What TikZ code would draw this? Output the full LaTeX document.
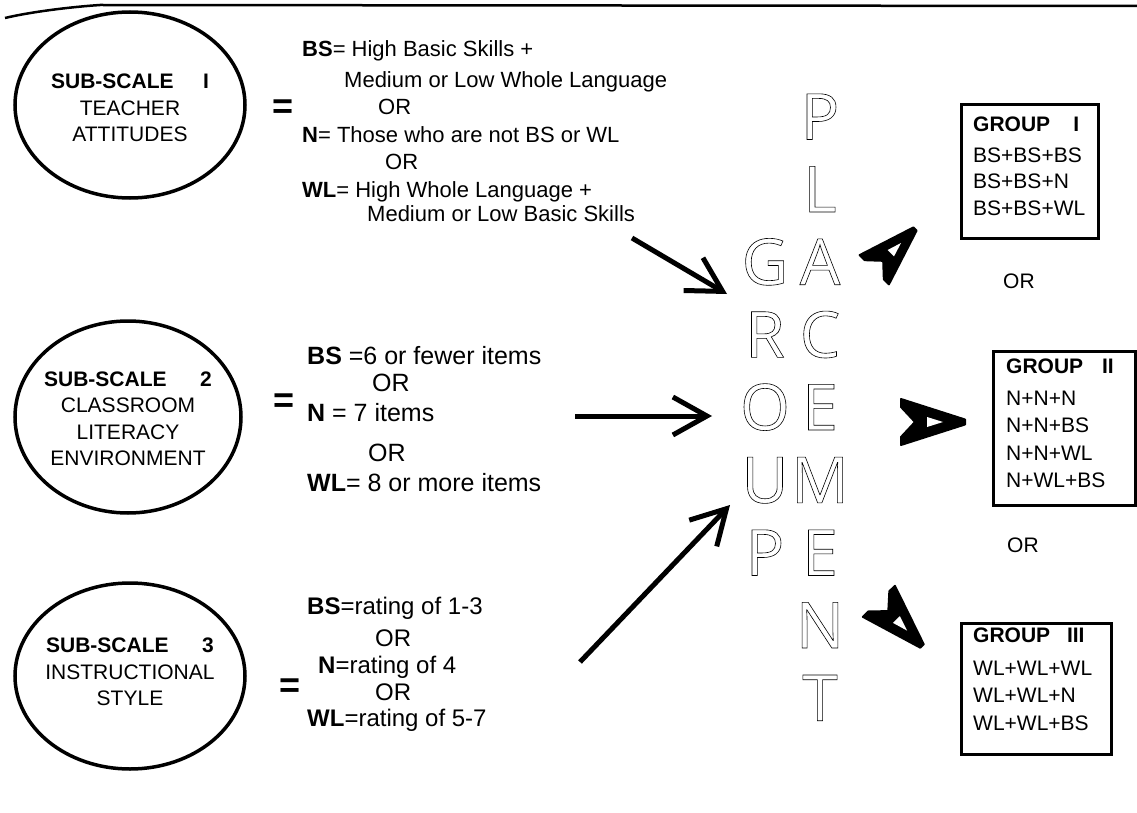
\documentclass[tikz,border=0pt]{standalone}
\usepackage{fontspec}
\setmainfont{Liberation Sans}
\newfontfamily\letfont{Open Sans}
\usetikzlibrary{arrows.meta,shapes.geometric}
\newcommand{\outl}[1]{\special{pdf:literal direct 1 Tr 0.6 w}#1\special{pdf:literal direct 0 Tr}}
\newcommand{\ghead}{%
  \draw[headfill] (-64,-23) -- (0,-2.5) -- (0,2.5) -- (-64,23) -- (-64,15) -- (-50,0) -- (-64,-15) -- cycle;
  \fill[hole] (-38,-5) -- (-22,0) -- (-38,5) -- cycle;}
\begin{document}
\begin{tikzpicture}[x=1pt,y=-1pt,
 ell/.style={draw,ellipse,line width=3.5pt,inner sep=0pt,minimum width=230pt,minimum height=186pt},
 etxt/.style={inner sep=0pt,align=center,font=\fontsize{21}{26.5}\selectfont},
 txt/.style={anchor=base west,inner sep=0pt,font=\fontsize{22}{27}\selectfont},
 txtb/.style={anchor=base west,inner sep=0pt,font=\fontsize{25}{27}\selectfont},
 txtc/.style={anchor=base west,inner sep=0pt,font=\fontsize{24}{27}\selectfont},
 eqs/.style={anchor=center,inner sep=0pt,font=\fontsize{36}{36}\selectfont\bfseries},
 bigarrow/.style={line width=5pt,-{Straight Barb[length=34pt,width=38pt,line width=5pt]}},
 gbox/.style={draw,line width=3pt,anchor=north west,inner sep=0pt},
 gtxt/.style={anchor=base west,inner sep=0pt,font=\fontsize{21}{26}\selectfont},
 letter/.style={anchor=base,inner sep=0pt,font=\fontsize{64}{64}\letfont},
 headfill/.style={fill=black,draw=black,line width=2pt,line join=round},
 hole/.style={fill=white}
]
\useasboundingbox (0,0) rectangle (1137,813);
\fill[white] (0,0) rectangle (1137,813);

% top line
\draw[line width=2.5pt] (5,18) .. controls (30,12) and (70,7) .. (100,5) -- (1137,6);

% ellipses
\node[ell] (e1) at (130,105) {};
\node[etxt] (t1) at (130,108) {\textbf{SUB-SCALE\hspace{1.4em}I}\\TEACHER\\ATTITUDES};
\node[ell,minimum width=226pt,minimum height=192pt] (e2) at (128,417) {};
\node[etxt] (t2) at (128,419) {\textbf{SUB-SCALE\hspace{1.6em}2}\\CLASSROOM\\LITERACY\\ENVIRONMENT};
\node[ell] (e3) at (130,676) {};
\node[etxt] (t3) at (130,672) {\textbf{SUB-SCALE\hspace{1.6em}3}\\INSTRUCTIONAL\\STYLE};

% equals signs
\node[eqs] (q1) at (283,109) {=};
\node[eqs] (q2) at (284,403) {=};
\node[eqs] (q3) at (290,688) {=};

% block 1
\node[txt] (b1a) at (302,57) {\textbf{BS}= High Basic Skills +};
\node[txt] (b1b) at (344,88) {Medium or Low Whole Language};
\node[txt] (b1c) at (378,115) {OR};
\node[txt] (b1d) at (302,143) {\textbf{N}= Those who are not BS or WL};
\node[txt] (b1e) at (385,170) {OR};
\node[txt] (b1f) at (302,197) {\textbf{WL}= High Whole Language +};
\node[txt] (b1g) at (367,222) {Medium or Low Basic Skills};

% block 2
\node[txtb] (b2a) at (307,364) {\textbf{BS} =6 or fewer items};
\node[txtb] (b2b) at (372,391) {OR};
\node[txtb] (b2c) at (307,421) {\textbf{N} = 7 items};
\node[txtb] (b2d) at (368,461) {OR};
\node[txtb] (b2e) at (307,491) {\textbf{WL}= 8 or more items};

% block 3
\node[txtc] (b3a) at (307,614) {\textbf{BS}=rating of 1-3};
\node[txtc] (b3b) at (375,646) {OR};
\node[txtc] (b3c) at (318,673) {\textbf{N}=rating of 4};
\node[txtc] (b3d) at (375,700) {OR};
\node[txtc] (b3e) at (307,726) {\textbf{WL}=rating of 5-7};

% arrows
\coordinate (a1s) at (632,238);
\coordinate (a1e) at (727,294);
\coordinate (a2s) at (575,416);
\coordinate (a2e) at (712,416);
\coordinate (a3s) at (580,662);
\coordinate (a3e) at (730,505);
\draw[bigarrow] (a1s) -- (a1e);
\draw[bigarrow] (a2s) -- (a2e);
\draw[bigarrow] (a3s) -- (a3e);

% outlined letters: GROUP
\node[letter] (lG) at (765,284.7) {\outl{G}};
\node[letter] (lR) at (765,357.4) {\outl{R}};
\node[letter] (lO) at (765,430) {\outl{O}};
\node[letter] (lU) at (765,502.8) {\outl{U}};
\node[letter] (lP) at (765,575.5) {\outl{P}};
% PLACEMENT
\node[letter] (mP) at (820,139.5) {\outl{P}};
\node[letter] (mL) at (820,212) {\outl{L}};
\node[letter] (mA) at (820,284.7) {\outl{A}};
\node[letter] (mC) at (820,357.4) {\outl{C}};
\node[letter] (mE) at (820,430) {\outl{E}};
\node[letter] (mM) at (820,502.8) {\outl{M}};
\node[letter] (mE2) at (820,575.5) {\outl{E}};
\node[letter] (mN) at (820,648) {\outl{N}};
\node[letter] (mT) at (820,720.7) {\outl{T}};

% arrowheads toward groups
\begin{scope}[shift={(915,229)},rotate=45,scale=0.9]\ghead\end{scope}
\begin{scope}[shift={(965,422)}]\ghead\end{scope}
\begin{scope}[shift={(922,646)},rotate=-46,scale=0.97]\ghead\end{scope}

% group boxes
\node[gbox,minimum width=137pt,minimum height=134pt] (g1) at (960,103) {};
\node[gtxt] (g1a) at (973,132) {\textbf{GROUP\hspace{1.1em}I}};
\node[gtxt] (g1b) at (973,163) {BS+BS+BS};
\node[gtxt] (g1c) at (973,189) {BS+BS+N};
\node[gtxt] (g1d) at (973,215) {BS+BS+WL};

\node[gtxt] (or1) at (1003,288) {OR};

\node[gbox,minimum width=142pt,minimum height=154pt] (g2) at (992,350) {};
\node[gtxt] (g2a) at (1006,373) {\textbf{GROUP\hspace{0.9em}II}};
\node[gtxt] (g2b) at (1006,405) {N+N+N};
\node[gtxt] (g2c) at (1006,432) {N+N+BS};
\node[gtxt] (g2d) at (1006,460) {N+N+WL};
\node[gtxt] (g2e) at (1006,487) {N+WL+BS};

\node[gtxt] (or2) at (1007,552) {OR};

\node[gbox,minimum width=150pt,minimum height=131pt] (g3) at (960,622) {};
\node[gtxt] (g3a) at (973,642) {\textbf{GROUP\hspace{0.8em}III}};
\node[gtxt] (g3b) at (973,675) {WL+WL+WL};
\node[gtxt] (g3c) at (973,702) {WL+WL+N};
\node[gtxt] (g3d) at (973,730) {WL+WL+BS};
\end{tikzpicture}
\end{document}
